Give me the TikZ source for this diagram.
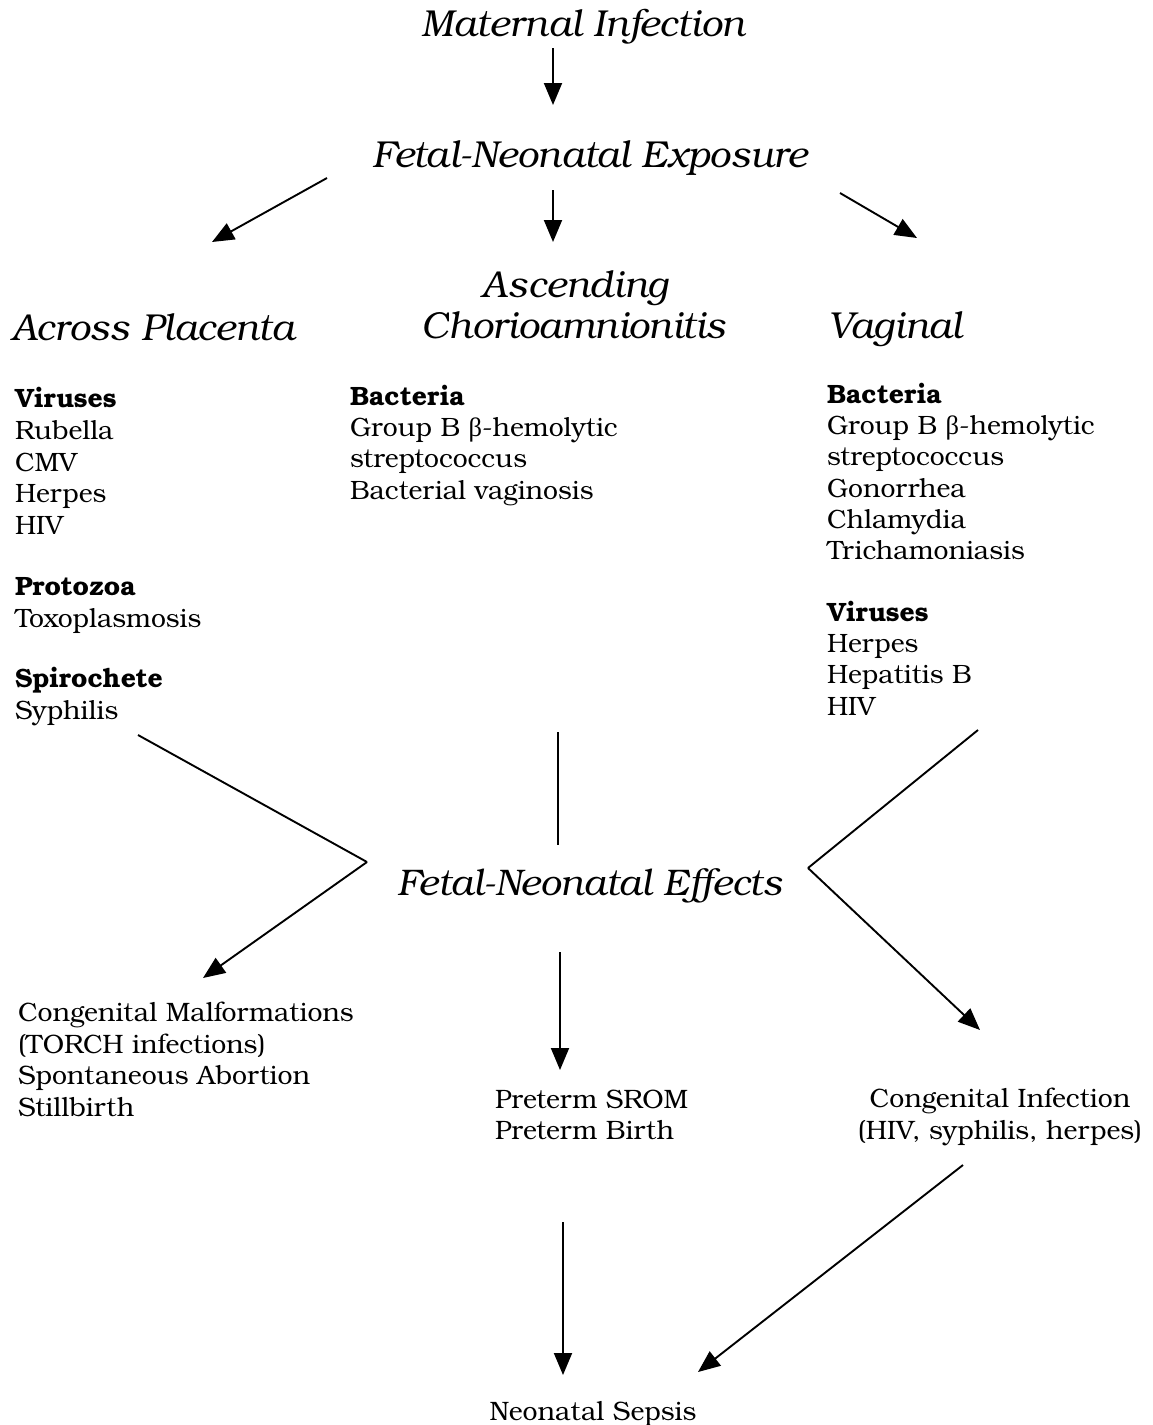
\documentclass[tikz,border=0pt]{standalone}
\usepackage{fontspec}
\setmainfont{texgyrebonum}[Extension=.otf, UprightFont=*-regular, BoldFont=*-bold, ItalicFont=*-italic, BoldItalicFont=*-bolditalic]
\newfontfamily\grk{Liberation Serif}
\usetikzlibrary{arrows.meta}
\newcommand{\gbeta}{{\grk β}}
\begin{document}
\begin{tikzpicture}[x=1pt,y=-1pt,
  every node/.style={inner sep=0pt, outer sep=0pt},
  head/.style={font=\fontsize{37.5pt}{41pt}\selectfont\itshape},
  body/.style={font=\fontsize{26.5pt}{31.3pt}\selectfont, align=left, anchor=north west},
  lower/.style={font=\fontsize{26.6pt}{31.5pt}\selectfont, align=left},
  link/.style={line width=1.9pt},
  arr/.style={line width=1.9pt, -{Triangle[length=22pt,width=18pt]}}]
\useasboundingbox (0,0) rectangle (1153,1425);

% headings
\node[head, anchor=base] (mat) at (583,36) {Maternal Infection};
\node[head, anchor=base] (expo) at (590,167) {Fetal-Neonatal Exposure};
\node[head, anchor=base west] (plac) at (12,340) {Across Placenta};
\node[head, anchor=base] (asc1) at (575,297) {Ascending};
\node[head, anchor=base] (asc) at (574,338) {Chorioamnionitis};
\node[head, anchor=base west] (vag) at (828,338) {Vaginal};

% pathogen lists
\node[body, font=\fontsize{26.5pt}{31.7pt}\selectfont] (lcol) at (15,387.5) {\textbf{Viruses}\\Rubella\\CMV\\Herpes\\HIV\\[29pt]
  \textbf{Protozoa}\\Toxoplasmosis\\[29pt]\textbf{Spirochete}\\Syphilis};
\node[body] (mcol) at (350,385) {\textbf{Bacteria}\\Group B \gbeta-hemolytic\\streptococcus\\Bacterial vaginosis};
\node[body] (rcol) at (827,383) {\textbf{Bacteria}\\Group B \gbeta-hemolytic\\streptococcus\\Gonorrhea\\Chlamydia\\Trichamoniasis\\[30pt]
  \textbf{Viruses}\\Herpes\\Hepatitis B\\HIV};

% effects
\node[head, font=\fontsize{37pt}{41pt}\selectfont\itshape, anchor=base] (eff) at (590,895) {Fetal-Neonatal Eff\kern-5pt ects};
\node[lower, anchor=north west] (cong) at (18,1002) {Congenital Malformations\\(TORCH infections)\\Spontaneous Abortion\\Stillbirth};
\node[lower, anchor=north west] (pre) at (495,1090) {Preterm SROM\\Preterm Birth};
\node[lower, align=center, anchor=north] (cinf) at (1000,1088) {Congenital Infection\\(HIV, syphilis, herpes)};
\node[lower, anchor=base] (sep) at (593,1420) {Neonatal Sepsis};

% connector end points
\coordinate (m1) at (553,48);   \coordinate (m2) at (553,105);
\coordinate (e1) at (327,178);  \coordinate (e2) at (212,242);
\coordinate (e3) at (553,190);  \coordinate (e4) at (553,242);
\coordinate (e5) at (840,193);  \coordinate (e6) at (917,238);
\coordinate (l1) at (138,735);  \coordinate (lk) at (367,862);  \coordinate (l2) at (203,978);
\coordinate (c1) at (558,732);  \coordinate (c2) at (558,845);
\coordinate (r1) at (978,730);  \coordinate (rk) at (808,868);  \coordinate (r2) at (980,1030);
\coordinate (d1) at (560,952);  \coordinate (d2) at (560,1070);
\coordinate (s1) at (563,1222); \coordinate (s2) at (563,1375);
\coordinate (t1) at (963,1165); \coordinate (t2) at (698,1372);

\draw[arr] (m1) -- (m2);
\draw[arr] (e1) -- (e2);
\draw[arr] (e3) -- (e4);
\draw[arr] (e5) -- (e6);
\draw[link] (l1) -- (lk);
\draw[arr] (lk) -- (l2);
\draw[link] (c1) -- (c2);
\draw[link] (r1) -- (rk);
\draw[arr] (rk) -- (r2);
\draw[arr] (d1) -- (d2);
\draw[arr] (s1) -- (s2);
\draw[arr] (t1) -- (t2);
\end{tikzpicture}
\end{document}
